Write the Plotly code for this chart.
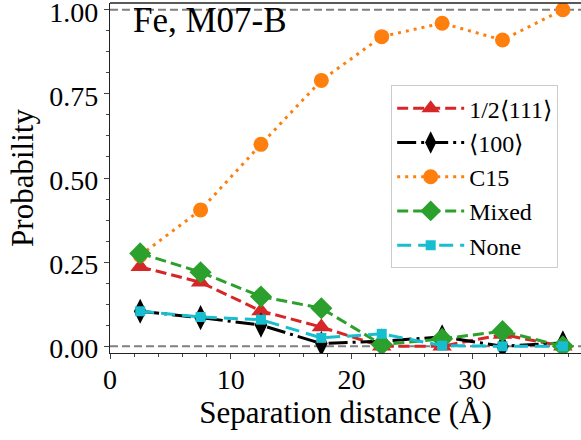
import plotly.graph_objects as go

x = [2.5, 7.5, 12.5, 17.5, 22.5, 27.5, 32.5, 37.5]
names = ["1/2⟨111⟩", "⟨100⟩", "C15", "Mixed", "None"]
half111 = [0.236, 0.19, 0.105, 0.057, 0.0, 0.0, 0.035, 0.0]
h100 = [0.104, 0.085, 0.063, 0.008, 0.015, 0.028, 0.0, 0.01]
c15 = [0.27, 0.405, 0.60, 0.79, 0.92, 0.96, 0.91, 1.0]
mixed = [0.276, 0.22, 0.148, 0.113, 0.005, 0.022, 0.045, 0.0]
none_ = [0.104, 0.087, 0.079, 0.025, 0.037, 0.002, 0.0, 0.0]
yticks = [0.0, 0.25, 0.5, 0.75, 1.0]
xticks = [0, 10, 20, 30]

FONT = "Liberation Serif"

styles = [
    dict(color="#d62728", dash="11px,5px", symbol="triangle-up", size=17),
    dict(color="#000000", dash="19px,5px,3px,5px", symbol="diamond-tall", size=18),
    dict(color="#ff7f0e", dash="3px,5px", symbol="circle", size=15),
    dict(color="#2ca02c", dash="11px,5px", symbol="diamond", size=17),
    dict(color="#17becf", dash="14px,7px", symbol="square", size=10),
]
series = [half111, h100, c15, mixed, none_]

fig = go.Figure()
for name, ys, st in zip(names, series, styles):
    fig.add_trace(go.Scatter(
        x=x, y=ys, name=name, mode="lines+markers",
        line=dict(color=st["color"], width=3, dash=st["dash"]),
        marker=dict(symbol=st["symbol"], size=st["size"], color=st["color"], line=dict(width=0)),
    ))

for yv in [0.0, 1.0]:
    fig.add_shape(type="line", xref="paper", x0=0, x1=1, yref="y", y0=yv, y1=yv,
                  line=dict(color="#808080", width=2, dash="8px,4px"), layer="below")

fig.add_annotation(text="Fe, M07-B", xref="paper", yref="paper", x=0.045, y=0.95,
                   xanchor="left", yanchor="middle", showarrow=False,
                   font=dict(family=FONT, size=35, color="black"))

tickfont = dict(family=FONT, size=28, color="black")
titlefont = dict(family=FONT, size=31, color="black")

fig.update_layout(
    template="none",
    width=581, height=440,
    margin=dict(l=110, r=0, t=3, b=87, autoexpand=False),
    paper_bgcolor="white", plot_bgcolor="white",
    font=dict(family=FONT, size=27, color="black"),
    showlegend=True,
    legend=dict(x=0.597, y=0.765, xanchor="left", yanchor="top",
                bgcolor="white", bordercolor="#cccccc", borderwidth=1,
                font=dict(family=FONT, size=24, color="black"),
                itemwidth=67, tracegroupgap=0),
    xaxis=dict(range=[0, 39.0], tickvals=xticks, ticktext=[str(v) for v in xticks],
               ticks="outside", ticklen=5, tickwidth=1.2,
               showline=True, linecolor="#222", linewidth=1.4, mirror=False,
               showgrid=False, zeroline=False, automargin=False, tickfont=tickfont,
               ticklabeloverflow="allow", ticklabelstandoff=-4,
               minor=dict(dtick=2, tick0=0, ticks="outside", ticklen=3, tickwidth=1, showgrid=False),
               title=dict(text="Separation distance (Å)", standoff=6, font=titlefont)),
    yaxis=dict(range=[-0.02, 1.02], tickvals=yticks, ticktext=[f"{v:.2f}" for v in yticks],
               ticks="outside",
               ticklen=5, tickwidth=1.2, showline=True, linecolor="#222", linewidth=1.4,
               showgrid=False, zeroline=False, automargin=False, tickfont=tickfont,
               ticklabeloverflow="allow", ticklabelshift=2,
               minor=dict(dtick=0.0625, tick0=0, ticks="outside", ticklen=3, tickwidth=1, showgrid=False),
               title=dict(text="Probability", standoff=6, font=titlefont)),
)
fig.add_shape(type="line", xref="paper", yref="paper", x0=0, x1=1, y0=1, y1=1,
              line=dict(color="#222", width=1.4))

fig.write_html("out.html", config={"displayModeBar": False},
               post_script="document.body.style.margin='0';")
